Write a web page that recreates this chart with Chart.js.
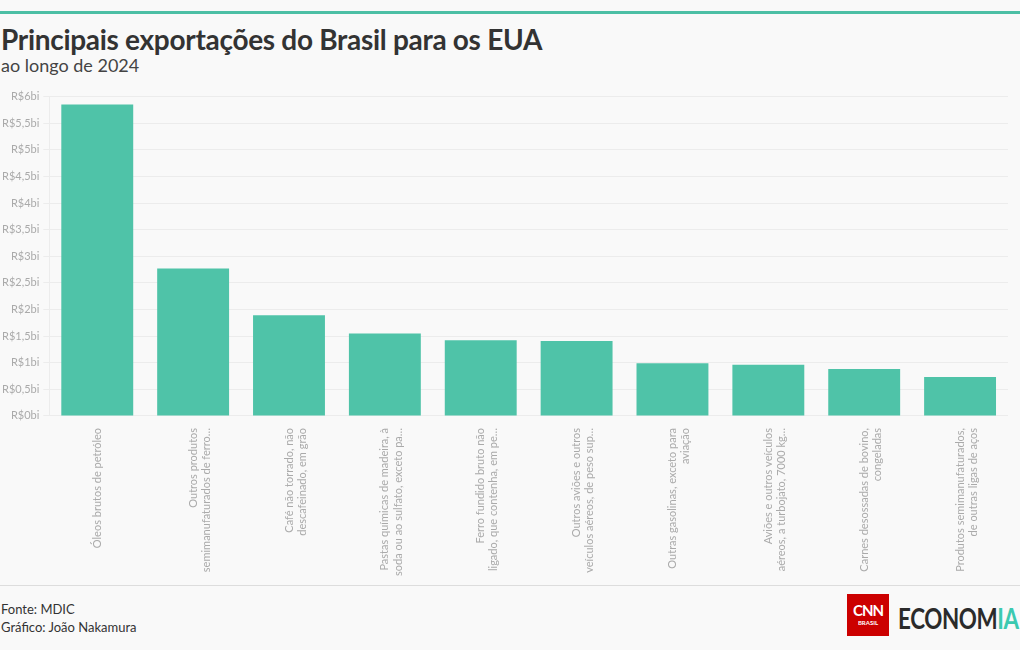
<!DOCTYPE html>
<html>
<head>
<meta charset="utf-8">
<script src="https://cdn.jsdelivr.net/npm/chart.js@4.4.0/dist/chart.umd.min.js"></script>
<style>
    body { margin: 0; background: #f9f9f9; font-family: 'Lato', 'Noto Sans', sans-serif; }
    #wrap { position: relative; width: 1020px; height: 650px; overflow: hidden; }
    #topline { position: absolute; left: 0; top: 11px; width: 1020px; height: 3px; background: #4cbfa5; }
    #title { position: absolute; left: 1px; top: 22px; font-size: 28px; font-weight: bold; color: #333; letter-spacing: -0.3px; }
    #subtitle { position: absolute; left: 1px; top: 54px; font-size: 18px; color: #444; }
    #chartBox { position: absolute; left: -2px; top: 86px; width: 1010px; height: 494px; }
    #footline { position: absolute; left: 0; top: 585px; width: 1020px; height: 1px; background: #ddd; }
    #footer { position: absolute; left: 1px; top: 600px; font-size: 13px; color: #333; line-height: 18px; }
    #logo { position: absolute; left: 847px; top: 594px; width: 42px; height: 42px; background: #cc0000; color: #fff; text-align: center; }
    #logo .cnn { font-size: 15px; font-weight: bold; margin-top: 7px; letter-spacing: -1px; }
    #logo .br { font-size: 6px; font-weight: bold; }
    #eco { position: absolute; left: 898px; top: 601px; font-size: 28px; font-weight: bold; color: #2b2b2b; letter-spacing: -0.5px; transform: scaleX(0.8); transform-origin: left top; }
    #eco span { color: #3cc9b0; }
</style>
</head>
<body>
<div id="wrap">
    <div id="topline"></div>
    <div id="title">Principais exportações do Brasil para os EUA</div>
    <div id="subtitle">ao longo de 2024</div>
    <div id="chartBox"><canvas id="exportChart"></canvas></div>
    <div id="footline"></div>
    <div id="footer">Fonte: MDIC<br>Gráfico: João Nakamura</div>
    <div id="logo"><div class="cnn">CNN</div><div class="br">BRASIL</div></div>
    <div id="eco">ECONOM<span>IA</span></div>
</div>
<script>
// categorias (quebradas em linhas como no original)
const categorias = [
    ['Óleos brutos de petróleo'],
    ['Outros produtos', 'semimanufaturados de ferro…'],
    ['Café não torrado, não', 'descafeinado, em grão'],
    ['Pastas químicas de madeira, à', 'soda ou ao sulfato, exceto pa…'],
    ['Ferro fundido bruto não', 'ligado, que contenha, em pe…'],
    ['Outros aviões e outros', 'veículos aéreos, de peso sup…'],
    ['Outras gasolinas, exceto para', 'aviação'],
    ['Aviões e outros veículos', 'aéreos, a turbojato, 7000 kg…'],
    ['Carnes desossadas de bovino,', 'congeladas'],
    ['Produtos semimanufaturados,', 'de outras ligas de aços']
];

// valores em bilhões de reais
const valores = [5.85, 2.77, 1.89, 1.55, 1.42, 1.41, 0.99, 0.96, 0.88, 0.73];

const ctx = document.getElementById('exportChart');
new Chart(ctx, {
    type: 'bar',
    data: {
        labels: categorias,
        datasets: [{
            label: 'Exportações',
            data: valores,
            backgroundColor: '#4fc3a8',
            borderWidth: 0,
            categoryPercentage: 0.75,
            barPercentage: 1
        }]
    },
    options: {
        responsive: true,
        maintainAspectRatio: false,
        animation: false,
        layout: { padding: { left: 0, right: 0, top: 4, bottom: 0 } },
        plugins: {
            legend: { display: false },
            tooltip: { enabled: false }
        },
        scales: {
            y: {
                min: 0,
                max: 6,
                ticks: {
                    stepSize: 0.5,
                    color: '#aaa',
                    font: { size: 11, family: "'Lato', sans-serif" },
                    padding: 4,
                    callback: function(v) {
                        return 'R$' + String(v).replace('.', ',') + 'bi';
                    }
                },
                grid: { color: '#ececec', tickLength: 6 },
                border: { color: '#ececec' }
            },
            x: {
                ticks: {
                    color: '#aaa',
                    font: { size: 11, family: "'Lato', sans-serif" },
                    maxRotation: 90,
                    minRotation: 90,
                    autoSkip: false,
                    padding: 4
                },
                grid: { display: false, drawTicks: true },
                border: { color: '#ececec' }
            }
        }
    }
});
</script>
</body>
</html>
